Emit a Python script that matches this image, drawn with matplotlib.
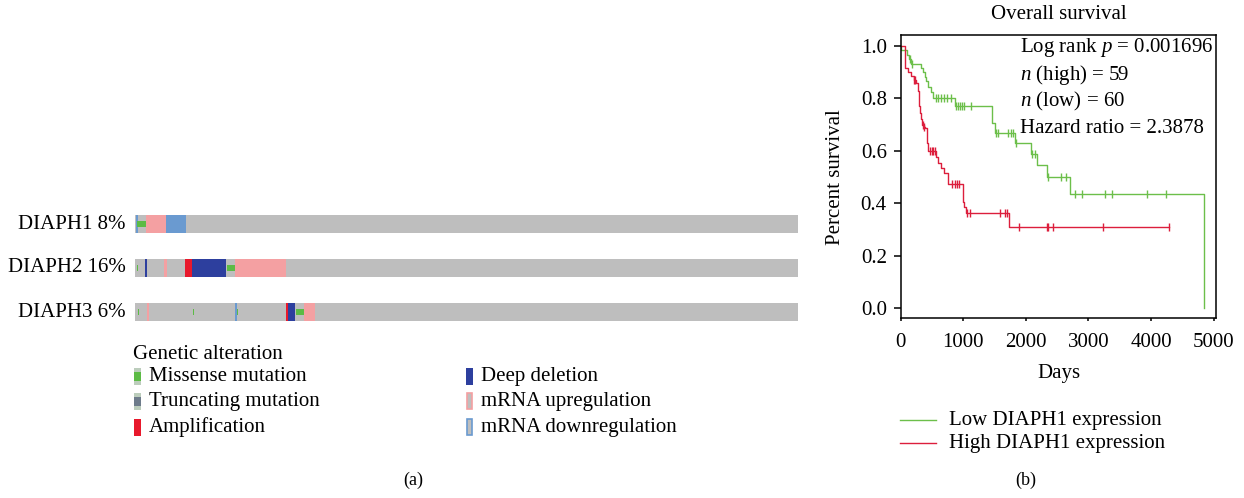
import numpy as np
import matplotlib
matplotlib.use('Agg')
import matplotlib.pyplot as plt
from matplotlib.patches import Rectangle

plt.rcParams['font.family'] = ['Liberation Serif', 'DejaVu Serif']
plt.rcParams['mathtext.fontset'] = 'custom'
plt.rcParams['mathtext.rm'] = 'Liberation Serif'
plt.rcParams['mathtext.it'] = 'Liberation Serif:italic'

# ---------------- data: oncoprint ----------------
genes = ['DIAPH1', 'DIAPH2', 'DIAPH3']
altered_pct = [8, 16, 6]

# alteration segments per gene, in percent of samples
diaph1_start = [0.15, 0.35, 1.70, 4.72]
diaph1_end = [0.45, 1.70, 4.72, 7.65]
diaph1_kind = ['down', 'missense', 'up', 'down']

diaph2_start = [0.30, 1.50, 4.30, 7.54, 8.65, 13.83, 15.08]
diaph2_end = [0.45, 1.85, 4.80, 8.65, 13.73, 15.08, 22.77]
diaph2_kind = ['missense', 'deep', 'up', 'amp', 'deep', 'missense', 'up']

diaph3_start = [0.45, 1.75, 8.80, 15.10, 15.35, 22.77, 23.03, 24.24, 25.54]
diaph3_end = [0.60, 2.05, 8.95, 15.35, 15.55, 23.03, 24.13, 25.54, 27.20]
diaph3_kind = ['missense', 'up', 'missense', 'down', 'missense', 'amp', 'deep', 'missense', 'up']

legend_kinds = ['missense', 'trunc', 'amp', 'deep', 'up', 'down']
legend_labels = ['Missense mutation', 'Truncating mutation', 'Amplification',
                 'Deep deletion', 'mRNA upregulation', 'mRNA downregulation']

# ---------------- data: Kaplan-Meier ----------------
low_t = [0, 5, 95, 125, 165, 324, 355, 390, 410, 441, 480, 521, 860, 1464, 1500,
         1826, 2077, 2173, 2332, 2700, 4851]
low_s = [1.0, 0.983, 0.967, 0.95, 0.933, 0.917, 0.90, 0.883, 0.866, 0.845, 0.826,
         0.80, 0.772, 0.705, 0.667, 0.632, 0.59, 0.547, 0.50, 0.437, 0.0]
low_cens = [150, 180, 560, 600, 640, 690, 740, 805, 878, 910, 947, 974, 1016, 1123,
            1523, 1560, 1720, 1757, 1789, 1840, 2103, 2150, 2348, 2556, 2636,
            2785, 2891, 3264, 3371, 3930, 4239]

high_t = [0, 72, 120, 165, 205, 250, 278, 288, 298, 310, 325, 345, 372, 392, 415,
          428, 442, 564, 600, 640, 690, 751, 990, 1012, 1045, 1733, 4287]
high_s = [1.0, 0.917, 0.90, 0.885, 0.87, 0.86, 0.83, 0.80, 0.77, 0.745, 0.72, 0.70,
          0.69, 0.686, 0.654, 0.63, 0.60, 0.578, 0.555, 0.535, 0.515, 0.473, 0.406,
          0.385, 0.362, 0.309, 0.309]
high_cens = [215, 230, 362, 380, 469, 495, 522, 548, 815, 868, 905, 937, 1065, 1108,
             1590, 1667, 1700, 1895, 2332, 2348, 2439, 3227, 4287]

stats_lines = ['Log rank $p$ = 0.001696', '$n$ (high) = 59', '$n$ (low) = 60',
               'Hazard ratio = 2.3878']

# ---------------- styles ----------------
GRAY = '#BEBEBE'
COL = {'missense': '#5CBB45', 'trunc': '#6E7B8B', 'amp': '#E8192C',
       'deep': '#2D3F9E', 'up': '#F4A0A2', 'down': '#6A9AD0'}
GREEN = '#6CBF4A'
RED = '#DC1E3C'
FS = 15

W, H = 1244, 498
fig = plt.figure(figsize=(W / 100, H / 100), dpi=100)

# ---------------- oncoprint ----------------
onc = fig.add_axes([135 / W, 1 - 334 / H, 663 / W, 132 / H])
onc.set_xlim(0, 100)
onc.set_ylim(2.5, -0.5)
onc.axis('off')
bar_h = 0.40
rows = [(diaph1_start, diaph1_end, diaph1_kind),
        (diaph2_start, diaph2_end, diaph2_kind),
        (diaph3_start, diaph3_end, diaph3_kind)]
for i, (st, en, kd) in enumerate(rows):
    onc.barh(i, 100, left=0, height=bar_h, color=GRAY, linewidth=0)
    for s, e, k in zip(st, en, kd):
        if k in ('missense', 'trunc'):
            onc.barh(i, e - s, left=s, height=bar_h * 0.34, color=COL[k], linewidth=0)
        else:
            onc.barh(i, e - s, left=s, height=bar_h, color=COL[k], linewidth=0)

# ---------------- Kaplan-Meier ----------------
km = fig.add_axes([900.7 / W, 1 - 318 / H, (1216 - 900.7) / W, (318 - 35) / H])
km.set_xlim(0, 5037)
km.set_ylim(-0.037, 1.042)


def surv_at(t, s, c):
    idx = np.searchsorted(np.asarray(t), np.asarray(c), side='right') - 1
    return np.asarray(s)[idx]


km.step(low_t, low_s, where='post', color=GREEN, linewidth=1.0)
km.plot(low_cens, surv_at(low_t, low_s, low_cens), linestyle='none', marker='|',
        markersize=5.5, markeredgewidth=1.0, color=GREEN)
km.step(high_t, high_s, where='post', color=RED, linewidth=1.0)
km.plot(high_cens, surv_at(high_t, high_s, high_cens), linestyle='none', marker='|',
        markersize=5.5, markeredgewidth=1.0, color=RED)

km.set_xticks([0, 1000, 2000, 3000, 4000, 5000])
km.set_yticks([0.0, 0.2, 0.4, 0.6, 0.8, 1.0])
km.set_yticklabels([f'{v:.1f}' for v in [0.0, 0.2, 0.4, 0.6, 0.8, 1.0]])
km.tick_params(axis='y', direction='out', length=5, width=1.1, labelsize=FS, pad=5)
km.tick_params(axis='x', direction='out', length=2.5, width=1.1, labelsize=FS, pad=8)
for sp in km.spines.values():
    sp.set_linewidth(1.1)

# overlay in pixel coordinates for free text / legend (on top)
ov = fig.add_axes([0, 0, 1, 1])
ov.set_xlim(0, W)
ov.set_ylim(H, 0)
ov.axis('off')
ov.set_zorder(10)

row_y = [224, 267, 312]
for g, p, y in zip(genes, altered_pct, row_y):
    ov.text(126, y, f'{g} {p}%', ha='right', va='center', fontsize=FS)

# legend of alterations
ov.text(133, 354, 'Genetic alteration', ha='left', va='center', fontsize=FS)
leg_pos = [(134, 376), (134, 401), (134, 427), (466, 376), (466, 401), (466, 427)]
for (x, y), k, lab in zip(leg_pos, legend_kinds, legend_labels):
    mw, mh = 6.5, 17
    if k in ('missense', 'trunc'):
        ov.add_patch(Rectangle((x, y - mh / 2), mw, mh, facecolor='#BCCDBC', linewidth=0))
        ov.add_patch(Rectangle((x, y - mh * 0.22), mw, mh * 0.5, facecolor=COL[k], linewidth=0))
    elif k in ('up', 'down'):
        ov.add_patch(Rectangle((x + 0.6, y - mh / 2 + 0.6), mw - 1.2, mh - 1.2,
                               facecolor=GRAY, edgecolor=COL[k], linewidth=1.2))
    else:
        ov.add_patch(Rectangle((x, y - mh / 2), mw, mh, facecolor=COL[k], linewidth=0))
    ov.text(x + 15, y, lab, ha='left', va='center', fontsize=FS)

ov.text(413, 480, '(a)', ha='center', va='center', fontsize=13)
ov.text(1026, 480, '(b)', ha='center', va='center', fontsize=13)

ov.text(1059, 14, 'Overall survival', ha='center', va='center', fontsize=FS)
ov.text(835, 177, 'Percent survival', ha='center', va='center', rotation=90, fontsize=FS)
ov.text(1059, 373, 'Days', ha='center', va='center', fontsize=FS)
for j, line in enumerate(stats_lines):
    ov.text(1020, 47.7 + j * 26.9, line, ha='left', va='center', fontsize=FS)

# KM legend
ov.plot([900, 936], [420, 420], color=GREEN, linewidth=1.0)
ov.plot([900, 936], [443, 443], color=RED, linewidth=1.0)
ov.text(949, 420, 'Low DIAPH1 expression', ha='left', va='center', fontsize=FS)
ov.text(949, 443, 'High DIAPH1 expression', ha='left', va='center', fontsize=FS)

fig.savefig('out.png', dpi=100)
